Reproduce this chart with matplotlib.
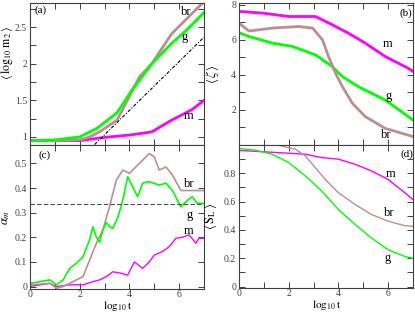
import numpy as np
import matplotlib
matplotlib.use("Agg")
from matplotlib import pyplot as plt
from matplotlib.ticker import MultipleLocator

plt.rcParams['font.family'] = ['Liberation Serif', 'DejaVu Serif']
plt.rcParams['mathtext.fontset'] = 'stix'

GREEN = "#00ff00"
MAGENTA = "#ff00ff"
BROWN = "#bc8f8f"

# (a) <log10 m2> vs log10 t
a_g_x = [0, 1, 2, 2.7, 3.5, 4.1, 4.9, 5.7, 6.3, 7]
a_g_y = [0.95, 0.96, 1.0, 1.12, 1.33, 1.64, 2.0, 2.28, 2.46, 2.7]
a_br_x = [0, 1, 2, 2.4, 2.8, 3.5, 4.1, 4.4, 4.9, 5.7, 7]
a_br_y = [0.95, 0.95, 0.96, 1.0, 1.07, 1.23, 1.62, 1.82, 2.0, 2.41, 2.85]
a_m_x = [0, 1, 2, 2.9, 4.1, 4.9, 5.7, 6.5, 7]
a_m_y = [0.95, 0.95, 0.95, 0.99, 1.03, 1.07, 1.23, 1.37, 1.5]
a_slope_x = [2.6, 7]

# (b) <zeta> vs log10 t
b_m_x = [0, 0.97, 2.0, 3.08, 3.75, 4.4, 5.08, 5.88, 6.8, 7]
b_m_y = [7.62, 7.52, 7.33, 7.33, 6.86, 6.38, 5.81, 5.05, 4.38, 4.2]
b_br_x = [0, 0.4, 1.35, 2.4, 2.96, 3.36, 3.6, 3.88, 4.16, 4.56, 5.08, 5.88, 7]
b_br_y = [6.95, 6.5, 6.67, 6.76, 6.67, 6.0, 5.05, 4.1, 3.33, 2.38, 1.62, 0.95, 0.48]
b_g_x = [0, 0.4, 1.35, 2.16, 3.08, 3.75, 4.16, 4.8, 5.88, 7]
b_g_y = [6.4, 6.19, 5.81, 5.62, 5.14, 4.48, 3.9, 3.33, 2.57, 1.43]

# (c) alpha_m vs log10 t
c_g_x = [0, 0.4, 0.8, 1.07, 1.33, 1.6, 1.87, 2.13, 2.4, 2.53, 2.67, 2.8, 2.93, 3.07,
         3.2, 3.33, 3.53, 3.73, 3.93, 4.13, 4.33, 4.53, 4.8, 5.2, 5.47, 5.73, 6.07,
         6.33, 6.53, 6.73, 7]
c_g_y = [0.013, 0.02, 0.027, 0.007, 0.027, 0.074, 0.095, 0.12, 0.19, 0.243, 0.2, 0.18,
         0.23, 0.26, 0.243, 0.236, 0.28, 0.35, 0.446, 0.405, 0.365, 0.42, 0.426, 0.412,
         0.42, 0.39, 0.324, 0.35, 0.365, 0.338, 0.338]
c_br_x = [0, 0.8, 1.07, 1.33, 1.73, 2.13, 2.4, 2.67, 2.93, 3.2, 3.47, 3.73, 4.0, 4.4,
          4.8, 5.0, 5.2, 5.47, 5.73, 6.07, 6.4, 7]
c_br_y = [0.007, 0.013, -0.007, 0.0, 0.02, 0.04, 0.108, 0.176, 0.23, 0.324, 0.432,
          0.473, 0.46, 0.5, 0.54, 0.527, 0.473, 0.486, 0.453, 0.39, 0.39, 0.39]
c_m_x = [0, 0.8, 1.07, 1.6, 2.13, 2.53, 2.8, 3.07, 3.33, 3.67, 3.93, 4.2, 4.53, 4.8,
         5.0, 5.33, 5.6, 5.87, 6.13, 6.4, 6.67, 6.8, 7]
c_m_y = [0.0, 0.013, 0.0, 0.007, 0.007, 0.02, 0.027, 0.04, 0.06, 0.054, 0.047, 0.1,
         0.074, 0.1, 0.128, 0.142, 0.162, 0.196, 0.2, 0.21, 0.176, 0.196, 0.196]

# (d) <S_L> vs log10 t
d_m_x = [0, 2, 2.67, 3.33, 4, 4.67, 5.33, 6, 6.67, 7]
d_m_y = [0.962, 0.942, 0.935, 0.911, 0.9, 0.864, 0.817, 0.757, 0.663, 0.615]
d_g_x = [0, 0.67, 1.33, 2, 2.67, 3.33, 4, 4.67, 5.33, 6, 6.67, 7]
d_g_y = [0.976, 0.963, 0.935, 0.876, 0.781, 0.675, 0.544, 0.438, 0.343, 0.26, 0.213, 0.2]
d_br_x = [0, 1.35, 2.27, 2.67, 3.07, 3.47, 4, 4.67, 5.33, 6, 6.67, 7]
d_br_y = [1.03, 1.007, 0.97, 0.923, 0.84, 0.757, 0.663, 0.58, 0.509, 0.462, 0.43, 0.426]

fig = plt.figure(figsize=(4.15, 3.12), dpi=100)
W, H = 415.0, 312.0
def box(x0, y0, x1, y1):
    return [x0 / W, 1 - y1 / H, (x1 - x0) / W, (y1 - y0) / H]

axa = fig.add_axes(box(30, 3, 204, 145))
axc = fig.add_axes(box(30, 145, 204, 289))
axb = fig.add_axes(box(239, 3, 413, 145))
axd = fig.add_axes(box(239, 145, 413, 288))

for ax in (axa, axb, axc, axd):
    ax.set_xlim(0, 7)
    ax.xaxis.set_major_locator(MultipleLocator(2))
    ax.xaxis.set_minor_locator(MultipleLocator(1))
    ax.tick_params(which='both', direction='in', top=True, right=True,
                   labelsize=7, colors='0.25', pad=2)
    ax.tick_params(which='major', length=4, width=0.7)
    ax.tick_params(which='minor', length=4, width=0.7)
    for s in ax.spines.values():
        s.set_color('0.25')
        s.set_linewidth(0.8)

# (a)
axa.plot(a_m_x, a_m_y, color=MAGENTA, lw=2)
axa.plot(a_br_x, a_br_y, color=BROWN, lw=2)
axa.plot(a_g_x, a_g_y, color=GREEN, lw=2)
sx = np.array(a_slope_x)
axa.plot(sx, sx / 3 + 0.03, color='k', lw=0.8, dashes=(3, 1.5, 1, 1.5))
axa.set_ylim(0.89, 2.83)
axa.set_yticks([1, 1.5, 2, 2.5])
axa.set_yticklabels(['1', '1.5', '2', '2.5'])
axa.yaxis.set_minor_locator(MultipleLocator(0.25))
axa.tick_params(labelbottom=False)
axa.set_ylabel(r'$\langle\,\log_{10}\,\mathrm{m}_2\,\rangle$', fontsize=8.5)
axa.yaxis.set_label_coords(-0.085, 0.65)
axa.text(0.2, 2.69, '(a)', fontsize=8)
axa.text(6.07, 2.67, 'br', fontsize=9)
axa.text(6.1, 2.33, 'g', fontsize=9)
axa.text(6.2, 1.25, 'm', fontsize=9)

# (b)
axb.plot(b_m_x, b_m_y, color=MAGENTA, lw=2)
axb.plot(b_g_x, b_g_y, color=GREEN, lw=2)
axb.plot(b_br_x, b_br_y, color=BROWN, lw=2)
axb.set_ylim(0, 8.1)
axb.set_yticks([2, 4, 6, 8])
axb.yaxis.set_minor_locator(MultipleLocator(1))
axb.tick_params(labelbottom=False)
axb.set_ylabel(r'$\langle\,\zeta\,\rangle$', fontsize=9)
axb.yaxis.set_label_coords(-0.105, 0.5)
axb.text(6.45, 7.35, '(b)', fontsize=8)
axb.text(5.8, 5.6, 'm', fontsize=9)
axb.text(5.88, 2.6, 'g', fontsize=9)
axb.text(5.7, 0.4, 'br', fontsize=9)

# (c)
axc.plot(c_m_x, c_m_y, color=MAGENTA, lw=1.0)
axc.plot(c_br_x, c_br_y, color=BROWN, lw=1.2)
axc.plot(c_g_x, c_g_y, color=GREEN, lw=1.2)
axc.axhline(1 / 3, color='0.3', lw=0.8, ls=(0, (4, 2)))
axc.set_ylim(-0.01, 0.575)
axc.set_yticks([0, 0.1, 0.2, 0.3, 0.4, 0.5])
axc.set_yticklabels(['0', '0.1', '0.2', '0.3', '0.4', '0.5'])
axc.set_xticks([0, 2, 4, 6])
axc.set_xticklabels(['0', '2', '4', '6'])
axc.tick_params(axis='x', pad=1)
axc.set_ylabel(r'$\alpha_m$', fontsize=9)
axc.yaxis.set_label_coords(-0.105, 0.5)
axc.set_xlabel(r'$\mathrm{log}_{10}\,\mathrm{t}$', fontsize=8)
axc.xaxis.set_label_coords(0.506, -0.072)
axc.text(0.35, 0.525, '(c)', fontsize=8)
axc.text(6.2, 0.405, 'br', fontsize=9)
axc.text(6.3, 0.28, 'g', fontsize=9)
axc.text(6.2, 0.215, 'm', fontsize=9)

# (d)
axd.plot(d_m_x, d_m_y, color=MAGENTA, lw=1.0)
axd.plot(d_br_x, d_br_y, color=BROWN, lw=1.0)
axd.plot(d_g_x, d_g_y, color=GREEN, lw=1.0)
axd.set_ylim(-0.01, 1.0)
axd.set_yticks([0, 0.2, 0.4, 0.6, 0.8])
axd.set_yticklabels(['0', '0.2', '0.4', '0.6', '0.8'])
axd.yaxis.set_minor_locator(MultipleLocator(0.1))
axd.set_xticks([0, 2, 4, 6])
axd.set_xticklabels(['0', '2', '4', '6'])
axd.tick_params(axis='x', pad=1)
axd.set_ylabel(r'$\langle\,\mathrm{S}_\mathrm{L}\,\rangle$', fontsize=9)
axd.yaxis.set_label_coords(-0.115, 0.5)
axd.set_xlabel(r'$\mathrm{log}_{10}\,\mathrm{t}$', fontsize=8)
axd.xaxis.set_label_coords(0.506, -0.072)
axd.text(6.5, 0.92, '(d)', fontsize=8)
axd.text(5.9, 0.775, 'm', fontsize=9)
axd.text(5.85, 0.495, 'br', fontsize=9)
axd.text(5.85, 0.18, 'g', fontsize=9)

fig.savefig("out.png", dpi=100)
